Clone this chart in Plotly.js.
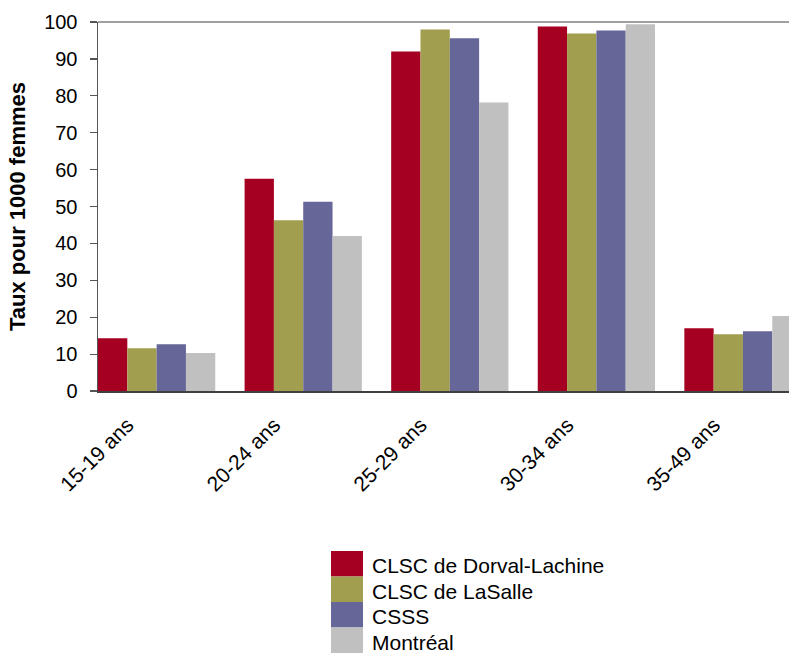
<!DOCTYPE html>
<html>
<head>
<meta charset="utf-8">
<script src="https://cdn.plot.ly/plotly-3.0.1.min.js"></script>
<style>
  html, body { margin: 0; padding: 0; background: #ffffff; }
  #chart { width: 789px; height: 656px; }
</style>
</head>
<body>
<div id="chart"></div>
<script>
// Taux de fécondité par groupe d'âge (pour 1000 femmes)
const ageGroups = ["15-19 ans", "20-24 ans", "25-29 ans", "30-34 ans", "35-49 ans"];

const seriesNames = ["CLSC de Dorval-Lachine", "CLSC de LaSalle", "CSSS", "Montréal"];
const seriesColors = ["#A50021", "#A19E4F", "#666699", "#C0C0C0"];

const dorvalLachine = [14.3, 57.5, 92.0, 98.8, 17.0];
const laSalle       = [11.6, 46.3, 98.0, 96.9, 15.4];
const csss          = [12.7, 51.3, 95.6, 97.7, 16.2];
const montreal      = [10.3, 42.0, 78.2, 99.4, 20.3];

const seriesValues = [dorvalLachine, laSalle, csss, montreal];

const FONT = "Liberation Sans, Arial, Helvetica, sans-serif";

const traces = seriesValues.map((vals, i) => ({
  type: "bar",
  name: seriesNames[i],
  x: ageGroups,
  y: vals,
  marker: { color: seriesColors[i], line: { width: 0 } },
  hoverinfo: "x+y+name",
  showlegend: false
}));

// Plot area geometry in pixels (used to place the legend block in paper units)
const W = 789, H = 656;
const M = { l: 98, r: 0, t: 22, b: 265 };
const plotW = W - M.l - M.r;
const plotH = H - M.t - M.b;
const px = v => (v - M.l) / plotW;
const py = v => (H - M.b - v) / plotH;

// Legend: stacked colour swatches with labels, below the chart
const legendLeft = 331, legendRight = 363, legendTop = 551, rowH = 25.5;
const shapes = [];
const annotations = [];
seriesNames.forEach((name, i) => {
  const top = legendTop + i * rowH;
  shapes.push({
    type: "rect", xref: "paper", yref: "paper",
    x0: px(legendLeft), x1: px(legendRight),
    y0: py(top + rowH), y1: py(top),
    fillcolor: seriesColors[i], line: { width: 0 }, layer: "above"
  });
  annotations.push({
    xref: "paper", yref: "paper",
    x: px(370), y: py(top + rowH / 2 + 2),
    xanchor: "left", yanchor: "middle",
    text: name, showarrow: false,
    font: { family: FONT, size: 21, color: "#000000" }
  });
});

// Top border of the plot frame
shapes.push({
  type: "line", xref: "paper", yref: "paper",
  x0: 0, x1: 1, y0: 1, y1: 1,
  line: { color: "#808080", width: 1.5 }
});

const layout = {
  width: W, height: H,
  margin: M,
  paper_bgcolor: "#ffffff",
  plot_bgcolor: "#ffffff",
  barmode: "group",
  bargap: 0.2,
  bargroupgap: 0,
  font: { family: FONT, color: "#000000" },
  xaxis: {
    type: "category",
    range: [-0.4, 4.314],
    tickangle: -45,
    tickfont: { family: FONT, size: 21, color: "#000000" },
    ticklabelshift: -29,
    ticklabelstandoff: 12,
    showline: true, linecolor: "#404040", linewidth: 1.5,
    ticks: "", showgrid: false, zeroline: false,
    fixedrange: true
  },
  yaxis: {
    range: [0, 100],
    dtick: 10,
    tick0: 0,
    ticks: "outside", ticklen: 7, tickwidth: 1.2, tickcolor: "#555555",
    ticklabelstandoff: 8,
    tickfont: { family: FONT, size: 20, color: "#000000" },
    showline: true, linecolor: "#555555", linewidth: 1.5,
    showgrid: false, zeroline: false,
    title: {
      text: "Taux pour 1000 femmes",
      font: { family: FONT, size: 22, color: "#000000", weight: "bold" },
      standoff: 12
    },
    fixedrange: true
  },
  shapes: shapes,
  annotations: annotations,
  showlegend: false
};

Plotly.newPlot("chart", traces, layout, { displayModeBar: false, staticPlot: true });
</script>
</body>
</html>
